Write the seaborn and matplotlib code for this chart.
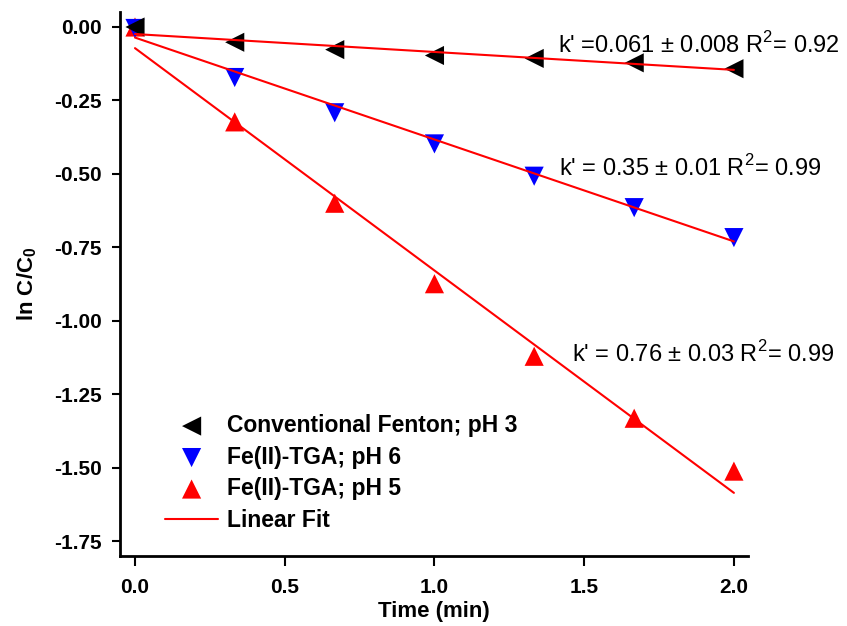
import numpy as np
import pandas as pd
import matplotlib.pyplot as plt
import seaborn as sns

# Values
time_min = [0.0, 0.333, 0.667, 1.0, 1.333, 1.667, 2.0]
fenton_ph3 = [0.0, -0.052, -0.077, -0.097, -0.107, -0.122, -0.142]
tga_ph6 = [-0.005, -0.172, -0.292, -0.398, -0.508, -0.615, -0.717]
tga_ph5 = [0.0, -0.323, -0.600, -0.874, -1.121, -1.332, -1.512]

series_names = ['Conventional Fenton; pH 3', 'Fe(II)-TGA; pH 6', 'Fe(II)-TGA; pH 5']
series_colors = ['black', 'blue', 'red']
series_markers = ['<', 'v', '^']

# linear fit parameters (intercept, slope)
fit_intercepts = [-0.024, -0.036, -0.072]
fit_slopes = [-0.061, -0.347, -0.757]
fit_x = [0.0, 2.0]

annotations = ["k' =0.061 ± 0.008 R$^2$= 0.92",
               "k' = 0.35 ± 0.01 R$^2$= 0.99",
               "k' = 0.76 ± 0.03 R$^2$= 0.99"]
annot_x = [1.412, 1.416, 1.459]
annot_y = [-0.062, -0.48, -1.112]

sns.set_style('white')
plt.rcParams['font.family'] = ['Liberation Sans', 'DejaVu Sans']
plt.rcParams['mathtext.fontset'] = 'custom'
plt.rcParams['mathtext.rm'] = 'Liberation Sans'
plt.rcParams['mathtext.bf'] = 'Liberation Sans:bold'
for key in ['text.color', 'axes.labelcolor', 'xtick.color', 'ytick.color']:
    plt.rcParams[key] = 'black'

fig = plt.figure(figsize=(8.47, 6.26), dpi=100)
ax = fig.add_axes([0.1417, 0.1118, 0.7414, 0.869])

df = pd.DataFrame({
    'time': time_min * 3,
    'lnC': fenton_ph3 + tga_ph6 + tga_ph5,
    'series': sum([[n] * len(time_min) for n in series_names], []),
})

# draw in reverse so the black points sit on top at t = 0
for name, color, marker in list(zip(series_names, series_colors, series_markers))[::-1]:
    sub = df[df['series'] == name]
    sns.scatterplot(data=sub, x='time', y='lnC', color=color, marker=marker,
                    s=190, edgecolor='none', ax=ax, label=name, zorder=3)

fx = np.array(fit_x)
for i, (b, m) in enumerate(zip(fit_intercepts, fit_slopes)):
    sns.lineplot(x=fx, y=b + m * fx, color='red', lw=1.5, ax=ax,
                 label='Linear Fit' if i == 0 else None, zorder=4)

for txt, x, y in zip(annotations, annot_x, annot_y):
    ax.text(x, y, txt, fontsize=17, va='center', ha='left', color='black')

ax.set_xlim(-0.05, 2.047)
ax.set_ylim(-1.801, 0.051)
ax.set_xticks([0.0, 0.5, 1.0, 1.5, 2.0])
ax.set_yticks([0.0, -0.25, -0.5, -0.75, -1.0, -1.25, -1.5, -1.75])
ax.set_xticklabels(['0.0', '0.5', '1.0', '1.5', '2.0'], fontweight='bold', fontsize=15)
ax.set_yticklabels(['0.00', '-0.25', '-0.50', '-0.75', '-1.00', '-1.25', '-1.50', '-1.75'],
                   fontweight='bold', fontsize=15)
ax.tick_params(axis='x', direction='out', length=7, width=1.5, colors='black',
               bottom=True, pad=9)
ax.tick_params(axis='y', direction='out', length=6, width=1.5, colors='black',
               left=True, pad=7)
ax.set_xlabel('Time (min)', fontweight='bold', fontsize=16, labelpad=3)
ax.set_ylabel('ln C/C$_\\mathbf{0}$', fontweight='bold', fontsize=16, labelpad=11)

for side in ['top', 'right']:
    ax.spines[side].set_visible(False)
for side in ['left', 'bottom']:
    ax.spines[side].set_color('black')
    ax.spines[side].set_linewidth(2)

handles, labels = ax.get_legend_handles_labels()
order = [2, 1, 0, 3]
leg = ax.legend([handles[i] for i in order], [labels[i] for i in order],
                loc='lower left', bbox_to_anchor=(0.072, 0.045), frameon=False,
                prop={'weight': 'bold', 'size': 16.5}, handlelength=2.3,
                handletextpad=0.4, labelspacing=0.37, markerscale=1.0,
                borderpad=0, borderaxespad=0)
for t in leg.get_texts():
    t.set_color('black')

fig.savefig('out.png', dpi=100)
